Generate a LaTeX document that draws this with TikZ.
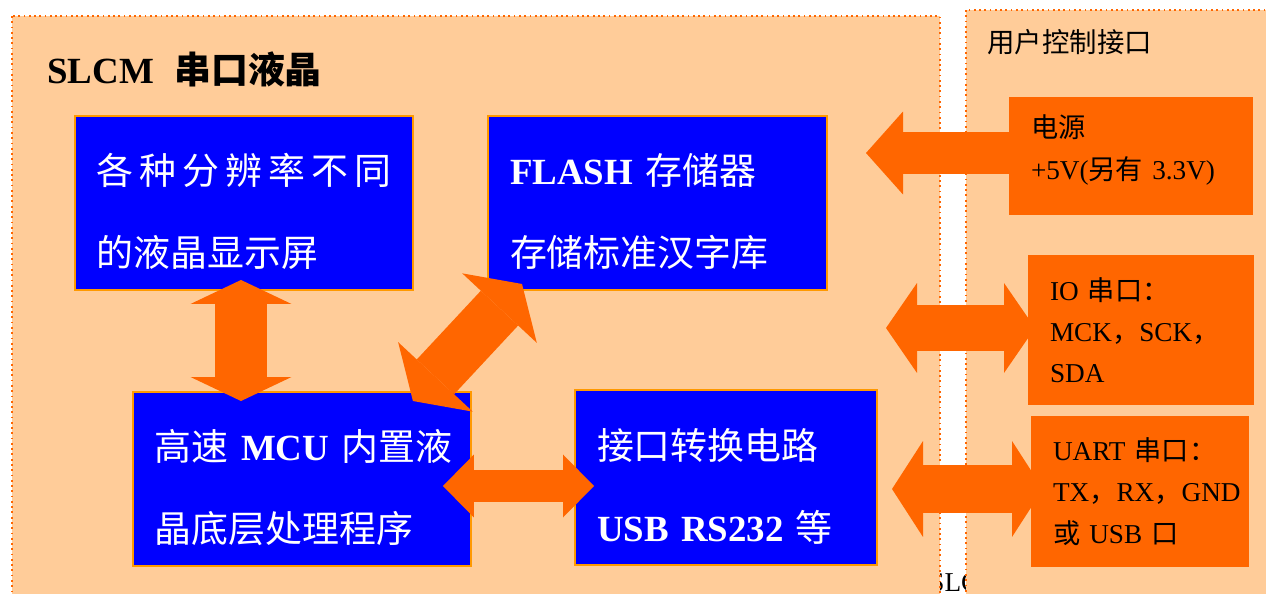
\documentclass[tikz,border=0pt]{standalone}
\usepackage{fontspec}
\setmainfont{Liberation Serif}
\newfontfamily\cjk{Noto Sans CJK SC}
\usetikzlibrary{arrows.meta,calc}
\definecolor{peach}{HTML}{FFCC99}
\definecolor{flame}{HTML}{FF6600}
\definecolor{chipedge}{HTML}{FF9900}
\definecolor{chipblue}{HTML}{0000FF}
\newcommand{\lift}{\rule{0pt}{0.97cm}}
\newcommand{\sink}{\rule[-0.36cm]{0pt}{0.1pt}}
\tikzset{
    panel/.style={fill=peach, draw=flame, line width=1pt, dotted},
    chip/.style={anchor=north west, fill=chipblue, draw=chipedge, line width=1.1pt, text=white,
        align=left, inner xsep=0.44cm, inner ysep=0pt, outer sep=0pt,
        font=\fontsize{21}{46.5}\selectfont},
    port/.style={anchor=north west, fill=flame, align=left, inner xsep=0.44cm, inner ysep=0pt,
        outer sep=0pt, font=\fontsize{15.5}{23.5}\selectfont},
    fat/.style n args={3}{flame, line width=#1,
        {Triangle[length=#2, width=#3, line width=0pt]}-{Triangle[length=#2, width=#3, line width=0pt]}},
    fatone/.style n args={3}{flame, line width=#1,
        -{Triangle[length=#2, width=#3, line width=0pt]}},
}
\begin{document}
\begin{tikzpicture}[x=0.02cm, y=-0.02cm]
\useasboundingbox (0,0) rectangle (1266,593);
\node[anchor=base west, inner sep=0pt, font=\fontsize{15.5}{18}\selectfont] (stub) at (929,591) {SLC};
\draw[panel] (12,16) rectangle (940,610);
\draw[panel] (966,10) rectangle (1280,610);
\node[anchor=base west, inner sep=0pt, font=\fontsize{21}{25}\selectfont\bfseries] (title) at (47,83) {SLCM\hspace{0.55em}{\cjk 串口液晶}};
\node[anchor=base west, inner sep=0pt, font=\fontsize{15.6}{18}\selectfont] (user) at (987,52) {\cjk 用户控制接口};
\node[chip, minimum width=6.76cm, minimum height=3.48cm, text width=5.88cm] (lcd) at (75,116)
    {\lift\cjk 各\kern0.12cm 种\kern0.12cm 分\kern0.12cm 辨\kern0.12cm 率\kern0.12cm 不\kern0.12cm 同\\ 的液晶显示屏};
\node[chip, minimum width=6.78cm, minimum height=3.48cm, text width=5.9cm] (flash) at (488,116)
    {\lift\bfseries FLASH~{\cjk\mdseries 存储器}\\ {\cjk\mdseries 存储标准汉字库}};
\node[chip, minimum width=6.76cm, minimum height=3.48cm, text width=5.88cm] (mcu) at (133,392)
    {\lift\mbox{{\cjk 高速}~\textbf{MCU}~{\cjk 内置液}}\\ {\cjk 晶底层处理程序}};
\node[chip, minimum width=6.04cm, minimum height=3.5cm, text width=5.16cm] (conv) at (575,390)
    {\lift{\cjk 接口转换电路}\\ \mbox{\textbf{USB RS232}~{\cjk 等}}};
\node[port, minimum width=4.88cm, minimum height=2.36cm, text width=4.0cm] (power) at (1009,97)
    {{\cjk 电源}\\ \mbox{+5V({\cjk 另有}~3.3V)}\sink};
\node[port, minimum width=4.52cm, minimum height=3.0cm, text width=3.64cm] (io) at (1028,255)
    {IO~{\cjk 串口：}\\ \mbox{MCK{\cjk ，}SCK{\cjk ，}}\\ SDA};
\node[port, minimum width=4.36cm, minimum height=3.02cm, text width=3.48cm] (uart) at (1031,416)
    {UART~{\cjk 串口：}\\ \mbox{TX{\cjk ，}RX{\cjk ，}GND}\\ {\cjk 或}~USB~{\cjk 口}};
\draw[fat={1.04cm}{0.48cm}{2.02cm}] ($(lcd.south west)+(166,-10)$) -- ($(mcu.north west)+(108,9)$);
\draw[fat={1.02cm}{0.66cm}{2.04cm}] ($(mcu.north east)+(-58,9)$) -- ($(flash.south west)+(34,-6)$);
\draw[fat={0.64cm}{0.62cm}{1.26cm}] ($(mcu.east)+(-28,7)$) -- ($(conv.west)+(19,8.5)$);
\draw[fatone={0.84cm}{0.74cm}{1.66cm}] ($(power.west)+(0,-3)$) -- ($(power.west)+(-143,-3)$);
\draw[fat={0.94cm}{0.62cm}{1.8cm}] ($(io.west)+(-142,-2)$) -- ($(io.west)+(7,-2)$);
\draw[fat={0.98cm}{0.62cm}{1.92cm}] ($(uart.west)+(-139,-2.5)$) -- ($(uart.west)+(12,-2.5)$);
\end{tikzpicture}
\end{document}
